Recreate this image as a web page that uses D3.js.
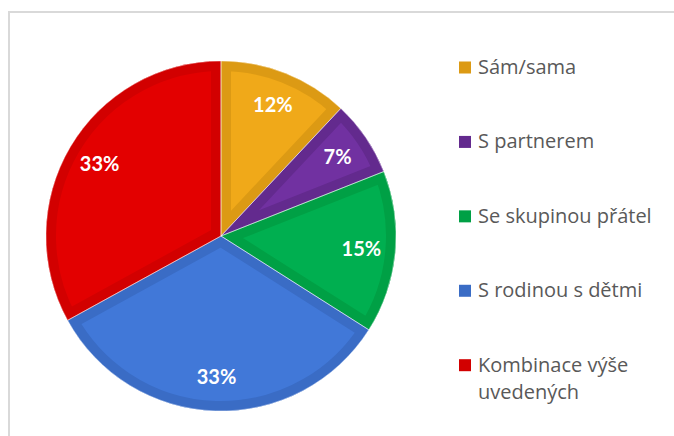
<!DOCTYPE html>
<html>
<head>
<meta charset="utf-8">
<script src="https://cdn.jsdelivr.net/npm/d3@7"></script>
<style>
  html, body { margin: 0; padding: 0; background: #fff; }
  svg { display: block; }
</style>
</head>
<body>
<svg id="chart" width="674" height="436"></svg>
<script>
// ---- data ----
const categories = ["Sám/sama", "S partnerem", "Se skupinou přátel", "S rodinou s dětmi", "Kombinace výše uvedených"];
const legendLines = [["Sám/sama"], ["S partnerem"], ["Se skupinou přátel"], ["S rodinou s dětmi"], ["Kombinace výše", "uvedených"]];
const values = [12, 7, 15, 33, 33];
const labels = ["12%", "7%", "15%", "33%", "33%"];
const fillColors = ["#F0A919", "#7131A1", "#00AF50", "#4178D8", "#E30000"];
const edgeColors = ["#DC9A14", "#632A8E", "#00A045", "#3A6CC5", "#D20000"];

// ---- layout ----
const svg = d3.select("#chart");
const cx = 221, cy = 236, R = 175, border = 10;

// chart frame
svg.append("rect")
  .attr("x", 9).attr("y", 12)
  .attr("width", 720).attr("height", 460)
  .attr("fill", "#fff")
  .attr("stroke", "#D9D9D9").attr("stroke-width", 2);

const pie = d3.pie().sort(null).value(d => d)(values);
const arc = d3.arc().innerRadius(0).outerRadius(R);
const labelArc = d3.arc().innerRadius(141).outerRadius(141);

const color = d3.scaleOrdinal().domain(categories).range(fillColors);
const edge = d3.scaleOrdinal().domain(categories).range(edgeColors);

const defs = svg.append("defs");
const g = svg.append("g").attr("transform", `translate(${cx},${cy})`);

pie.forEach((p, i) => {
  const d = arc(p);
  defs.append("clipPath").attr("id", "clip" + i)
    .append("path").attr("d", d);
  const sg = g.append("g");
  sg.append("path").attr("d", d).attr("fill", color(categories[i]));
  sg.append("path").attr("d", d)
    .attr("fill", "none")
    .attr("stroke", edge(categories[i]))
    .attr("stroke-width", border * 2)
    .attr("stroke-linejoin", "miter")
    .attr("clip-path", `url(#clip${i})`);
});
// thin light separators between slices
pie.forEach((p, i) => {
  g.append("path").attr("d", arc(p))
    .attr("fill", "none")
    .attr("stroke", "#ffffff")
    .attr("stroke-opacity", 0.55)
    .attr("stroke-width", 0.8);
});

// data labels
g.selectAll("text.lbl")
  .data(pie)
  .enter().append("text")
  .attr("class", "lbl")
  .attr("transform", d => `translate(${labelArc.centroid(d)})`)
  .attr("text-anchor", "middle")
  .attr("dy", "0.36em")
  .attr("fill", "#ffffff")
  .attr("font-family", "Lato, 'Open Sans', sans-serif")
  .attr("font-weight", "bold")
  .attr("font-size", 20)
  .text((d, i) => labels[i]);

// legend
const legendY = d3.scalePoint().domain(categories).range([74, 371.7]);
const lg = svg.append("g");
categories.forEach((c, i) => {
  const y = legendY(c);
  lg.append("rect")
    .attr("x", 459).attr("y", y - 12.5)
    .attr("width", 12).attr("height", 12)
    .attr("fill", edge(c));
  const t = lg.append("text")
    .attr("x", 478).attr("y", y)
    .attr("fill", "#595959")
    .attr("font-family", "'Open Sans', sans-serif")
    .attr("font-size", 20);
  legendLines[i].forEach((line, j) => {
    t.append("tspan").attr("x", 478).attr("dy", j === 0 ? 0 : 27).text(line);
  });
});
</script>
</body>
</html>
